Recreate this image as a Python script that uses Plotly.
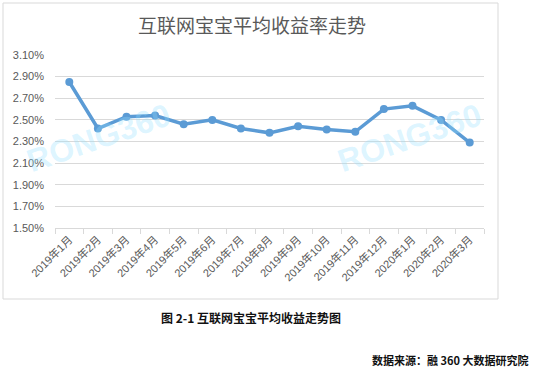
import plotly.graph_objects as go

months = ["2019年1月", "2019年2月", "2019年3月", "2019年4月", "2019年5月", "2019年6月",
          "2019年7月", "2019年8月", "2019年9月", "2019年10月", "2019年11月", "2019年12月",
          "2020年1月", "2020年2月", "2020年3月"]
yield_pct = [2.85, 2.42, 2.53, 2.54, 2.46, 2.50, 2.42, 2.38, 2.44, 2.41, 2.39, 2.60, 2.63, 2.50, 2.29]
y_ticks = [1.50, 1.70, 1.90, 2.10, 2.30, 2.50, 2.70, 2.90, 3.10]

W, H = 534, 370
L, R, T, B = 55, 484, 55, 228


def px(x):
    return (x - L) / (R - L)


def py(y):
    return (B - y) / (B - T)


FONT = "Liberation Sans, Noto Sans CJK SC, sans-serif"
CJK = "Noto Sans CJK SC, sans-serif"
WM = dict(family="Liberation Sans, sans-serif", size=32, color="rgba(150,225,255,0.32)")

fig = go.Figure()
fig.add_trace(go.Scatter(
    x=months, y=yield_pct, mode="lines+markers",
    line=dict(color="#5B9BD5", width=3.5),
    marker=dict(color="#5B9BD5", size=8),
    showlegend=False, hoverinfo="x+y",
))

fig.update_layout(
    width=W, height=H,
    margin=dict(l=L, r=W - R, t=T, b=H - B, pad=0),
    paper_bgcolor="white", plot_bgcolor="white",
    xaxis=dict(
        type="category", tickangle=-45, showgrid=False,
        showline=True, linecolor="#d9d9d9", linewidth=1,
        ticks="outside", tickson="boundaries", ticklen=5, tickcolor="#d9d9d9",
        tickfont=dict(family=FONT, size=11, color="#595959"),
        range=[-0.5, len(months) - 0.5],
    ),
    yaxis=dict(
        range=[1.5, 3.1], tickvals=y_ticks,
        ticktext=[f"{v:.2f}%" for v in y_ticks],
        showgrid=True, gridcolor="#d9d9d9", gridwidth=1,
        zeroline=False, showline=False, ticks="",
        ticklabelstandoff=10,
        tickfont=dict(family=FONT, size=11, color="#595959"),
    ),
    shapes=[dict(type="rect", xref="paper", yref="paper",
                 x0=px(3), x1=px(498), y0=py(299), y1=py(3),
                 line=dict(color="#d9d9d9", width=1), layer="below")],
    annotations=[
        dict(text="互联网宝宝平均收益率走势", xref="paper", yref="paper",
             x=px(252), y=py(25), showarrow=False, xanchor="center", yanchor="middle",
             font=dict(family=CJK, size=19, color="#595959")),
        dict(text="<b>RONG360</b>", xref="paper", yref="paper",
             x=px(98), y=py(138), showarrow=False, textangle=-19,
             xanchor="center", yanchor="middle", font=WM),
        dict(text="<b>RONG360</b>", xref="paper", yref="paper",
             x=px(409), y=py(138), showarrow=False, textangle=-19,
             xanchor="center", yanchor="middle", font=WM),
        dict(text="<b>图 2-1 互联网宝宝平均收益走势图</b>", xref="paper", yref="paper",
             x=px(251), y=py(317), showarrow=False, xanchor="center", yanchor="middle",
             font=dict(family=CJK, size=12, color="#111111")),
        dict(text="<b>数据来源：融 360 大数据研究院</b>", xref="paper", yref="paper",
             x=px(530), y=py(360), showarrow=False, xanchor="right", yanchor="middle",
             font=dict(family=CJK, size=11, color="#111111")),
    ],
)

fig.write_html("out.html", config={"displayModeBar": False},
               post_script="document.body.style.margin='0';document.body.style.overflow='hidden';")
